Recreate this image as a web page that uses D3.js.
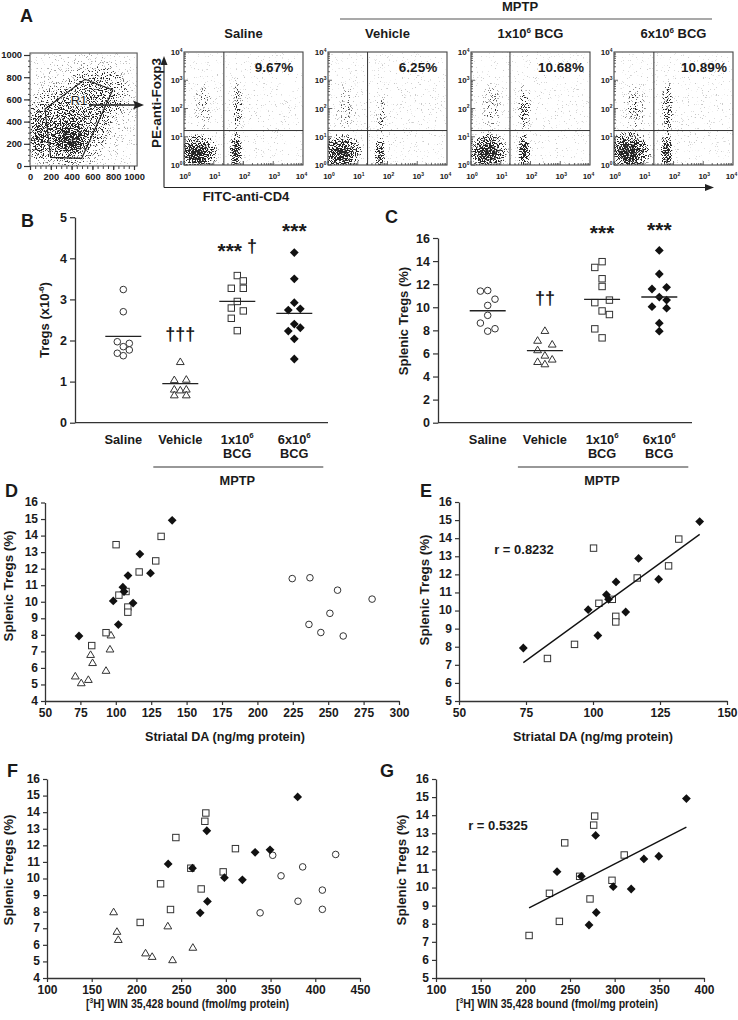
<!DOCTYPE html>
<html><head><meta charset="utf-8">
<script src="https://cdn.jsdelivr.net/npm/d3@7"></script>
<style>
body{margin:0;background:#fff;}
svg{display:block;font-family:"Liberation Sans",Arial,Helvetica,sans-serif;}
</style></head><body>
<script>
// ================= DATA =================
const groupKeys = ["Saline", "Vehicle", "BCG1", "BCG6"];
const groupLabels = [["Saline"], ["Vehicle"], ["1x10{6}", "BCG"], ["6x10{6}", "BCG"]];
const groupShapes = ["circle", "triangle", "square", "diamond"];
const flowTitles = ["Saline", "Vehicle", "1x10{6} BCG", "6x10{6} BCG"];
const flowPercents = ["9.67%", "6.25%", "10.68%", "10.89%"];
const flowQuadX = [1.34, 1.33, 1.31, 1.34];   // decades
const flowQuadY = [1.22, 1.22, 1.22, 1.22];
const flowTickLabels = ["10{0}", "10{1}", "10{2}", "10{3}", "10{4}"];
const scatterTicks = [0, 200, 400, 600, 800, 1000];

// density blobs of the flow dot plots: [cx, cy, rx, ry, coverage] (decades)
const salineClusters = [[2, 2, 5, 5, 0.05], [0.45, 0.45, 0.75, 0.7, 0.82], [0.42, 0.35, 0.4, 0.38, 0.85], [1.75, 0.5, 0.22, 0.7, 0.85], [1.8, 2.0, 0.2, 1.15, 0.3], [0.65, 2.1, 0.35, 1.0, 0.15]];
const vehicleClusters = [[2, 2, 5, 5, 0.05], [0.45, 0.45, 0.75, 0.7, 0.82], [0.42, 0.35, 0.4, 0.38, 0.85], [1.75, 0.45, 0.19, 0.6, 0.72], [1.8, 1.8, 0.2, 0.9, 0.18], [0.6, 2.0, 0.4, 1.0, 0.13]];
const bcg1Clusters = [[2, 2, 5, 5, 0.05], [0.55, 0.5, 0.75, 0.7, 0.84], [0.5, 0.38, 0.4, 0.38, 0.86], [1.78, 0.5, 0.24, 0.65, 0.82], [1.8, 2.0, 0.25, 1.0, 0.28], [0.7, 2.0, 0.4, 1.0, 0.15]];
const bcg6Clusters = [[2, 2, 5, 5, 0.05], [0.5, 0.5, 0.8, 0.75, 0.88], [0.48, 0.38, 0.42, 0.4, 0.88], [1.77, 0.5, 0.22, 0.7, 0.86], [1.8, 2.0, 0.22, 1.1, 0.38], [0.7, 2.0, 0.45, 1.0, 0.17]];
const flowClusters = [salineClusters, vehicleClusters, bcg1Clusters, bcg6Clusters];
// FSC/SSC density blobs [cx, cy, rx, ry, coverage]
const scatterClusters = [[515, 510, 900, 900, 0.12], [330, 350, 470, 420, 0.45], [80, 280, 90, 260, 0.5], [390, 240, 200, 180, 0.72], [410, 200, 100, 95, 0.82], [650, 650, 350, 300, 0.3]];
const gateR1 = [[144, 514], [529, 781], [795, 685], [497, 69], [199, 78]];

// Panel B: Tregs (x10^-6)
const tregsSaline = [3.24, 2.70, 1.97, 1.93, 1.85, 1.77, 1.69, 1.63];
const tregsSalineSlot = [0, 0, -1, 1, 0, 1, -1, 0];
const tregsVehicle = [1.49, 1.05, 1.06, 0.82, 0.80, 0.82, 0.68, 0.68];
const tregsVehicleSlot = [0, -1, 1, -1, 0, 1, -1, 1];
const tregsBcg1 = [3.58, 3.45, 3.27, 3.27, 2.95, 2.79, 2.72, 2.54, 2.24];
const tregsBcg1Slot = [0, 1, -1, 1, 0, -1, 1, -1, 0];
const tregsBcg6 = [4.14, 3.50, 2.92, 2.74, 2.77, 2.40, 2.23, 2.31, 2.04, 1.55];
const tregsBcg6Slot = [0, 0, 0, -1, 1, 0, -1, 1, 0, 0];
const tregsMean = [2.10, 0.95, 2.95, 2.66];
const tregsNotes = [["Vehicle", "†††", 2.14], ["BCG1", "*** †", 4.29], ["BCG6", "***", 4.78]];

// Panels C-G: one entry per animal (splenic Tregs %, striatal DA, [3H]WIN bound)
const pctSaline = [11.40, 11.45, 10.70, 10.16, 9.30, 8.63, 8.14, 7.93];
const slotSaline = [-1, 0, 1, 0, 0, -1, 1, 0];
const daSaline = [224.6, 237.1, 256.6, 281.0, 251.2, 236.4, 244.8, 260.6];
const winSaline = [352.4, 422.8, 385.9, 361.7, 407.9, 380.7, 407.9, 338.3];

const pctVehicle = [8.00, 7.15, 6.82, 6.33, 5.86, 5.52, 5.31, 5.11];
const slotVehicle = [0, -1, 1, -1, 0, 1, -1, 0];
const daVehicle = [96.6, 95.9, 82.2, 83.6, 93.1, 71.4, 80.6, 75.6];
const winVehicle = [174.5, 235.1, 178.2, 179.7, 263.1, 210.2, 217.6, 240.4];

const pctBcg1 = [13.45, 13.95, 12.47, 11.80, 10.62, 10.40, 9.68, 9.37, 8.13, 7.35];
const slotBcg1 = [-1, 0, 0, 0, 1, -1, 0, 1, -1, 0];
const daBcg1 = [100.2, 132.0, 128.2, 116.5, 107.2, 102.2, 108.5, 108.5, 93.1, 83.0];
const winBcg1 = [276.5, 277.6, 244.1, 310.7, 260.8, 297.0, 227.0, 272.4, 238.1, 204.2];

const pctBcg6 = [14.92, 12.88, 11.58, 11.73, 10.88, 10.62, 10.05, 9.92, 8.62, 7.93];
const slotBcg6 = [0, 0, -1, 1, 0, 1, -1, 1, 0, 0];
const daBcg6 = [139.8, 117.0, 108.6, 124.5, 105.0, 105.8, 98.2, 112.2, 101.8, 74.0];
const winBcg6 = [380.3, 278.7, 332.7, 349.4, 235.5, 262.7, 298.4, 318.5, 279.4, 271.3];

const pctMean = [9.70, 6.25, 10.68, 10.89];
const pctNotes = [["Vehicle", "††", 10.7], ["BCG1", "***", 16.86], ["BCG6", "***", 17.1]];
const rLabels = ["r = 0.8232", "r = 0.5325"];

// ================= SETUP =================
const W = 738, H = 1020, INK = "#1a1a1a", AX = "#333";
const fmt = d => String(d);
const svg = d3.select("body").append("svg").attr("width", W).attr("height", H);
svg.append("rect").attr("width", W).attr("height", H).attr("fill", "#fff");
const defs = svg.append("defs");
const rg = defs.append("radialGradient").attr("id", "blob");
[[0, 1], [0.3, 0.9], [0.6, 0.55], [0.85, 0.2], [1, 0]].forEach(s => rg.append("stop").attr("offset", s[0]).attr("stop-color", "#000").attr("stop-opacity", s[1]));
// speckle texture: noise flattened to ~uniform, dot where coverage + u > 1
const flt = defs.append("filter").attr("id", "speck").attr("filterUnits", "userSpaceOnUse")
  .attr("x", 0).attr("y", 0).attr("width", W).attr("height", H).attr("color-interpolation-filters", "sRGB");
flt.append("feTurbulence").attr("type", "fractalNoise").attr("baseFrequency", 0.85).attr("numOctaves", 2).attr("seed", 7).attr("result", "noise");
flt.append("feComponentTransfer").attr("in", "noise").attr("result", "flat").append("feFuncR").attr("type", "table")
  .attr("tableValues", "0 0 0 0.0002 0.0013 0.0062 0.0228 0.0668 0.1587 0.3085 0.5 0.6915 0.8413 0.9332 0.9772 0.9938 0.9987 0.9998 1 1 1");
flt.append("feColorMatrix").attr("in", "flat").attr("type", "matrix").attr("values", "0 0 0 0 0  0 0 0 0 0  0 0 0 0 0  1 0 0 0 0").attr("result", "na");
flt.append("feComposite").attr("in", "SourceAlpha").attr("in2", "na").attr("operator", "arithmetic")
  .attr("k1", 0).attr("k2", 1).attr("k3", 1).attr("k4", -1.0).attr("result", "sum");
flt.append("feComponentTransfer").attr("in", "sum").attr("result", "th").append("feFuncA").attr("type", "linear").attr("slope", 6).attr("intercept", 0);
flt.append("feFlood").attr("flood-color", "#262626").attr("result", "ink");
flt.append("feComposite").attr("in", "ink").attr("in2", "th").attr("operator", "in");

function rich(sel, str, size, supScale = 0.62) {
  const tokens = []; const re = /\{([^}]*)\}/g; let last = 0, m;
  while ((m = re.exec(str)) !== null) {
    if (m.index > last) tokens.push([str.slice(last, m.index), false]);
    tokens.push([m[1], true]); last = re.lastIndex;
  }
  if (last < str.length) tokens.push([str.slice(last), false]);
  let raised = 0;
  tokens.forEach(([t, s]) => {
    const ts = sel.append("tspan").text(t);
    if (s) { ts.attr("font-size", size * supScale).attr("dy", -size * 0.4); raised = size * 0.4; }
    else { ts.attr("font-size", size); if (raised) { ts.attr("dy", raised); raised = 0; } }
  });
  return sel;
}
function txt(x, y, str, size, opts = {}) {
  const t = svg.append("text").attr("x", x).attr("y", y).attr("fill", INK)
    .attr("font-weight", opts.weight || "bold").attr("text-anchor", opts.anchor || "middle").attr("font-size", size);
  if (opts.rotate) t.attr("transform", `rotate(-90 ${x} ${y})`);
  rich(t, str, size);
  if (opts.len) t.attr("textLength", opts.len).attr("lengthAdjust", "spacingAndGlyphs");
  return t;
}
function marker(g, shape, x, y) {
  if (shape === "circle") g.append("circle").attr("cx", x).attr("cy", y).attr("r", 3.3).attr("fill", "#fff").attr("stroke", AX).attr("stroke-width", 1);
  else if (shape === "triangle") g.append("path").attr("d", `M${x},${y - 3.5}L${x + 3.9},${y + 3.1}L${x - 3.9},${y + 3.1}Z`).attr("fill", "#fff").attr("stroke", AX).attr("stroke-width", 1);
  else if (shape === "square") g.append("rect").attr("x", x - 3.2).attr("y", y - 3.2).attr("width", 6.4).attr("height", 6.4).attr("fill", "#fff").attr("stroke", AX).attr("stroke-width", 1);
  else g.append("path").attr("d", `M${x},${y - 4.4}L${x + 4.4},${y}L${x},${y + 4.4}L${x - 4.4},${y}Z`).attr("fill", "#111");
}
function styleAxis(g, size) {
  g.select(".domain").attr("stroke", AX).attr("stroke-width", 1.3);
  g.selectAll(".tick line").attr("stroke", AX).attr("stroke-width", 1.2);
  g.selectAll(".tick text").attr("fill", INK).attr("font-weight", "bold").attr("font-size", size).attr("font-family", null);
}
function line(x1, y1, x2, y2, w = 1.2, c = AX) {
  return svg.append("line").attr("x1", x1).attr("y1", y1).attr("x2", x2).attr("y2", y2).attr("stroke", c).attr("stroke-width", w);
}
function speckle(clipId, x0, y0, x1, y1, clusters, xs, ys) {
  defs.append("clipPath").attr("id", clipId).append("rect").attr("x", x0).attr("y", y0).attr("width", x1 - x0).attr("height", y1 - y0);
  const g = svg.append("g").attr("clip-path", `url(#${clipId})`).append("g").attr("filter", "url(#speck)");
  clusters.forEach(c => g.append("ellipse").attr("cx", xs(c[0])).attr("cy", ys(c[1]))
    .attr("rx", Math.abs(xs(c[0] + c[2]) - xs(c[0]))).attr("ry", Math.abs(ys(c[1] + c[3]) - ys(c[1])))
    .attr("fill", "url(#blob)").attr("fill-opacity", c[4]));
}

// ================= PANEL A =================
txt(20, 22, "A", 18, { anchor: "start" });
{
  const xs = d3.scaleLinear().domain([0, 1000]).range([30, 134]);
  const ys = d3.scaleLinear().domain([0, 1000]).range([166, 55]);
  const bx0 = xs(0), bx1 = xs(1030), by0 = ys(1018), by1 = ys(0);
  speckle("clipS", bx0, by0, bx1, by1, scatterClusters, xs, ys);
  svg.append("rect").attr("x", bx0).attr("y", by0).attr("width", bx1 - bx0).attr("height", by1 - by0).attr("fill", "none").attr("stroke", "#555").attr("stroke-width", 1.1);
  const minorX = svg.append("g").attr("transform", `translate(0,${by1})`).call(d3.axisBottom(xs).tickValues(d3.range(0, 1001, 50)).tickSize(3).tickFormat(""));
  minorX.select(".domain").remove(); minorX.selectAll("line").attr("stroke", "#444");
  const majX = svg.append("g").attr("transform", `translate(0,${by1})`).call(d3.axisBottom(xs).tickValues(scatterTicks).tickFormat(fmt).tickSize(4).tickPadding(3));
  majX.select(".domain").remove(); styleAxis(majX, 9.3);
  const minorY = svg.append("g").attr("transform", `translate(${bx0},0)`).call(d3.axisLeft(ys).tickValues(d3.range(0, 1001, 50)).tickSize(2).tickFormat(""));
  minorY.select(".domain").remove(); minorY.selectAll("line").attr("stroke", "#444");
  const majY = svg.append("g").attr("transform", `translate(${bx0},0)`).call(d3.axisLeft(ys).tickValues(scatterTicks).tickFormat(fmt).tickSize(6).tickPadding(2));
  majY.select(".domain").remove(); styleAxis(majY, 9.3);
  svg.append("path").attr("d", d3.line()(gateR1.map(p => [xs(p[0]), ys(p[1])])) + "Z").attr("fill", "none").attr("stroke", "#222").attr("stroke-width", 1.1);
  txt(79, 105, "R1", 13, { weight: "normal" }).attr("stroke", "#fff").attr("stroke-width", 2.5).attr("paint-order", "stroke");
  line(90, 105, 137, 105, 1.4, "#222");
  svg.append("path").attr("d", "M144,105L133,100.5L135,105L133,109.5Z").attr("fill", "#222");
}
const flowLefts = [184, 328, 471, 614], FT = 52, FW = 119, FH = 113;
flowLefts.forEach((left, i) => {
  const xs = d3.scaleLinear().domain([0, 4]).range([left, left + FW]);
  const ys = d3.scaleLinear().domain([0, 4]).range([FT + FH, FT]);
  speckle("clipF" + i, left, FT, left + FW, FT + FH, flowClusters[i], xs, ys);
  svg.append("rect").attr("x", left).attr("y", FT).attr("width", FW).attr("height", FH).attr("fill", "none").attr("stroke", "#444").attr("stroke-width", 1.1);
  line(xs(flowQuadX[i]), FT, xs(flowQuadX[i]), FT + FH, 1, "#333");
  line(left, ys(flowQuadY[i]), left + FW, ys(flowQuadY[i]), 1, "#333");
  for (let d = 0; d < 4; d++) for (let k = 1; k <= 9; k++) {
    const v = d + Math.log10(k), L = k === 1 ? 4 : 2;
    line(xs(v), FT + FH, xs(v), FT + FH - L, 0.8, "#444");
    line(left, ys(v), left + L, ys(v), 0.8, "#444");
  }
  flowTickLabels.forEach((s, k) => {
    txt(xs(k) + (k === 4 ? -1.5 : 1), FT + FH + 14, s, 8);
    txt(left - 1.5, ys(k) + 3, s, 8, { anchor: "end" });
  });
  txt((left + left + FW) / 2, 38, flowTitles[i], 13);
  txt(left + 90, 72, flowPercents[i], 13.5);
});
txt(520, 11, "MPTP", 13);
line(340, 19, 712, 19, 1.2, "#555");
line(164, 187.5, 164, 63, 1.1, "#222");
svg.append("path").attr("d", "M164,56L160.5,65L167.5,65Z").attr("fill", "#222");
line(164, 187.5, 707, 187.5, 1.1, "#222");
svg.append("path").attr("d", "M714,187.5L705,184L705,191Z").attr("fill", "#222");
txt(161, 103, "PE-anti-Foxp3", 13, { rotate: true, len: 90 });
txt(246, 201, "FITC-anti-CD4", 13);

// ================= PANELS B & C =================
function dotPanel(cfg) {
  const x = d3.scalePoint().domain(groupKeys).range(cfg.xr);
  const y = d3.scaleLinear().domain(cfg.yd).range(cfg.yr);
  const slot = d3.scaleLinear().domain([-1, 1]).range([-cfg.slotPx, cfg.slotPx]);
  const ax = svg.append("g").attr("transform", `translate(${cfg.axisX},0)`)
    .call(d3.axisLeft(y).tickValues(cfg.ticks).tickFormat(fmt).tickSize(5).tickPadding(3).tickSizeOuter(0));
  styleAxis(ax, 12.5);
  line(cfg.axisX, y(0), cfg.xEnd, y(0), 1.3);
  cfg.values.forEach((vals, gi) => {
    const g = svg.append("g");
    vals.forEach((v, j) => marker(g, groupShapes[gi], x(groupKeys[gi]) + slot(cfg.slots[gi][j]), y(v)));
    line(x(groupKeys[gi]) - 18, y(cfg.means[gi]), x(groupKeys[gi]) + 18, y(cfg.means[gi]), 1.3, "#222");
  });
  groupLabels.forEach((lines, gi) => lines.forEach((s, li) => txt(x(groupKeys[gi]), 443.5 + li * 14.3, s, 12.8)));
  line(x("Vehicle") - 27, 467, x("BCG6") + 29, 467, 1.2);
  txt((x("Vehicle") + x("BCG6")) / 2, 484.5, "MPTP", 12.8);
  cfg.notes.forEach(([k, s, v]) => {
    const cx = x(k), cy = y(v);
    const t = svg.append("text").attr("x", cx).attr("text-anchor", "middle").attr("fill", INK).attr("font-weight", "bold");
    const parts = s.split(" ");
    if (parts[0].startsWith("*")) {
      t.attr("y", cy + 12).append("tspan").attr("font-size", 21).text(parts[0]);
      if (parts[1]) t.append("tspan").attr("font-size", 18).attr("dy", -6.8).text(" " + parts[1]);
    } else {
      t.attr("y", cy + 5.2).attr("font-size", 18).text(s);
    }
  });
  svg.append("text").attr("transform", `translate(${cfg.titleX},${cfg.titleY}) rotate(-90)`).attr("text-anchor", "middle")
    .attr("font-weight", "bold").attr("fill", INK).call(t => rich(t, cfg.title, 13));
}
txt(21, 227, "B", 18, { anchor: "start" });
dotPanel({
  xr: [123.3, 294.3], yd: [0, 5], yr: [422.7, 217.2], axisX: 75, xEnd: 328, ticks: d3.range(0, 6), slotPx: 6,
  values: [tregsSaline, tregsVehicle, tregsBcg1, tregsBcg6], slots: [tregsSalineSlot, tregsVehicleSlot, tregsBcg1Slot, tregsBcg6Slot],
  means: tregsMean, notes: tregsNotes, title: "Tregs (x10{-6})", titleX: 49, titleY: 320
});
txt(385, 223, "C", 18, { anchor: "start" });
dotPanel({
  xr: [487.7, 659.3], yd: [0, 16], yr: [422.7, 238], axisX: 438, xEnd: 692, ticks: d3.range(0, 17, 2), slotPx: 7.3,
  values: [pctSaline, pctVehicle, pctBcg1, pctBcg6], slots: [slotSaline, slotVehicle, slotBcg1, slotBcg6],
  means: pctMean, notes: pctNotes, title: "Splenic Tregs (%)", titleX: 408, titleY: 321
});

// ================= PANELS D-G =================
const pctAll = [pctSaline, pctVehicle, pctBcg1, pctBcg6];
const daAll = [daSaline, daVehicle, daBcg1, daBcg6];
const winAll = [winSaline, winVehicle, winBcg1, winBcg6];
function scatterPanel(cfg) {
  const x = d3.scaleLinear().domain(cfg.xd).range(cfg.xr);
  const y = d3.scaleLinear().domain(cfg.yd).range(cfg.yr);
  const gx = svg.append("g").attr("transform", `translate(0,${cfg.yr[0]})`)
    .call(d3.axisBottom(x).tickValues(d3.range(cfg.xd[0], cfg.xd[1] + 0.1, cfg.xStep)).tickFormat(fmt).tickSize(4).tickPadding(3).tickSizeOuter(0));
  styleAxis(gx, 12);
  const gy = svg.append("g").attr("transform", `translate(${cfg.xr[0]},0)`)
    .call(d3.axisLeft(y).tickValues(d3.range(cfg.yd[0], cfg.yd[1] + 0.1, 1)).tickFormat(fmt).tickSize(4).tickPadding(3).tickSizeOuter(0));
  styleAxis(gy, 12);
  gy.selectAll(".tick text").attr("dy", "0.28em");
  const pts = [];
  [0, 1, 2, 3].filter(gi => cfg.groups.includes(gi)).forEach(gi => {
    const g = svg.append("g");
    cfg.xs[gi].forEach((xv, j) => { pts.push({ x: xv, y: pctAll[gi][j] }); marker(g, groupShapes[gi], x(xv), y(pctAll[gi][j])); });
  });
  if (cfg.r) {
    const mx = d3.mean(pts, d => d.x), my = d3.mean(pts, d => d.y);
    let sxy = 0, sxx = 0; pts.forEach(p => { sxy += (p.x - mx) * (p.y - my); sxx += (p.x - mx) ** 2; });
    const b = sxy / sxx, a = my - b * mx;
    const [x0, x1] = d3.extent(pts, d => d.x);
    line(x(x0), y(a + b * x0), x(x1), y(a + b * x1), 1.4, "#111");
    txt(cfg.r[0], cfg.r[1], cfg.r[2], 13);
  }
  txt(cfg.xTitle[0], cfg.xTitle[1], cfg.xTitle[2], cfg.xTitle[4] || 13, { len: cfg.xTitle[3] });
  txt(cfg.yTitle[0], cfg.yTitle[1], "Splenic Tregs (%)", 13, { rotate: true, len: 111 });
}
txt(5, 497, "D", 18, { anchor: "start" });
scatterPanel({ xd: [50, 300], xr: [45, 399], xStep: 25, yd: [4, 16], yr: [701, 502.5], groups: [0, 1, 2, 3], xs: daAll,
  xTitle: [225, 741, "Striatal DA (ng/mg protein)", 160], yTitle: [13, 586] });
txt(420, 497, "E", 18, { anchor: "start" });
scatterPanel({ xd: [50, 150], xr: [459, 727], xStep: 25, yd: [5, 16], yr: [701, 502], groups: [2, 3], xs: daAll,
  r: [524, 553.5, rLabels[0]], xTitle: [593, 741, "Striatal DA (ng/mg protein)", 160], yTitle: [429, 590] });
txt(7, 777, "F", 18, { anchor: "start" });
scatterPanel({ xd: [100, 450], xr: [47, 360], xStep: 50, yd: [4, 16], yr: [978, 779], groups: [0, 1, 2, 3], xs: winAll,
  xTitle: [187.5, 1008, "[{3}H] WIN 35,428 bound (fmol/mg protein)", 203, 12], yTitle: [13, 870] });
txt(380, 777, "G", 18, { anchor: "start" });
scatterPanel({ xd: [100, 400], xr: [436, 704], xStep: 50, yd: [5, 16], yr: [978, 779], groups: [2, 3], xs: winAll,
  r: [498, 829.5, rLabels[1]], xTitle: [557, 1008, "[{3}H] WIN 35,428 bound (fmol/mg protein)", 202, 12], yTitle: [406, 870] });
</script>
</body></html>
